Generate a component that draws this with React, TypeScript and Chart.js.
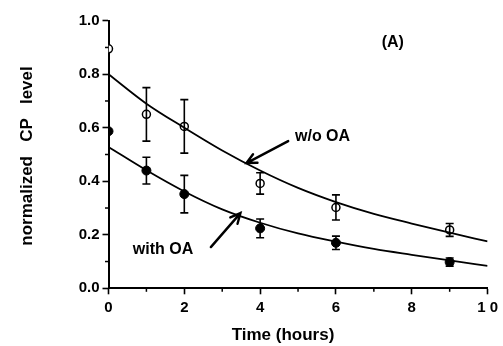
import React, { useEffect, useRef } from "react";
import { Chart, registerables } from "chart.js";

Chart.register(...registerables);

// ---- data ----
const times = [0, 1, 2, 4, 6, 9];
const withoutOA = [0.895, 0.65, 0.605, 0.392, 0.302, 0.218];
const withoutOAErr = [0, 0.1, 0.1, 0.04, 0.047, 0.024];
const withOA = [0.587, 0.44, 0.352, 0.224, 0.17, 0.098];
const withOAErr = [0, 0.05, 0.07, 0.035, 0.025, 0.015];

const fitTimes = [0, 1, 2, 3, 4, 5, 6, 7, 8, 9, 10];
const withoutOAFit = [0.8, 0.69, 0.6, 0.515, 0.44, 0.375, 0.322, 0.278, 0.242, 0.208, 0.175];
const withOAFit = [0.528, 0.441, 0.362, 0.295, 0.245, 0.205, 0.174, 0.147, 0.125, 0.104, 0.084];

const xTickValues = [0, 2, 4, 6, 8, 10];
const xTickLabels = ["0", "2", "4", "6", "8", "1 0"];
const yTickValues = [0, 0.2, 0.4, 0.6, 0.8, 1.0];
const yTickLabels = ["0.0", "0.2", "0.4", "0.6", "0.8", "1.0"];

const xTitle = "Time (hours)";
const yTitle = "normalized   CP   level";
const panelLabel = "(A)";
const labelWithout = "w/o OA";
const labelWith = "with OA";

const FONT = '"Liberation Sans", Arial, Helvetica, sans-serif';

const decorPlugin = {
  id: "decor",
  beforeDatasetDraw(chart: any) {
    const { ctx, chartArea } = chart;
    ctx.save();
    ctx.beginPath();
    ctx.rect(chartArea.left, chartArea.top - 10, chartArea.right - chartArea.left + 10, chartArea.bottom - chartArea.top + 20);
    ctx.clip();
  },
  afterDatasetDraw(chart: any) {
    chart.ctx.restore();
  },
  afterDatasetsDraw(chart: any) {
    const { ctx, chartArea } = chart;
    const xs = chart.scales.x;
    const ys = chart.scales.y;
    ctx.save();
    ctx.beginPath();
    ctx.rect(chartArea.left, chartArea.top - 10, chartArea.right - chartArea.left + 10, chartArea.bottom - chartArea.top + 10);
    ctx.clip();
    ctx.strokeStyle = "#000";
    ctx.lineWidth = 1.6;
    const drawErr = (vals: number[], errs: number[]) => {
      vals.forEach((v, i) => {
        const e = errs[i];
        if (!e) return;
        const px = xs.getPixelForValue(times[i]);
        const top = ys.getPixelForValue(v + e);
        const bot = ys.getPixelForValue(v - e);
        ctx.beginPath();
        ctx.moveTo(px, top);
        ctx.lineTo(px, bot);
        ctx.moveTo(px - 4, top);
        ctx.lineTo(px + 4, top);
        ctx.moveTo(px - 4, bot);
        ctx.lineTo(px + 4, bot);
        ctx.stroke();
      });
    };
    drawErr(withoutOA, withoutOAErr);
    drawErr(withOA, withOAErr);
    ctx.restore();
  },
  afterDraw(chart: any) {
    const { ctx, chartArea } = chart;
    const xs = chart.scales.x;
    const ys = chart.scales.y;
    ctx.save();
    ctx.strokeStyle = "#000";
    ctx.fillStyle = "#000";
    // minor ticks
    ctx.lineWidth = 1.5;
    for (let i = 0; i < xTickValues.length - 1; i++) {
      const m = (xTickValues[i] + xTickValues[i + 1]) / 2;
      const px = xs.getPixelForValue(m);
      ctx.beginPath();
      ctx.moveTo(px, chartArea.bottom);
      ctx.lineTo(px, chartArea.bottom + 3.5);
      ctx.stroke();
    }
    for (let i = 0; i < yTickValues.length - 1; i++) {
      const m = (yTickValues[i] + yTickValues[i + 1]) / 2;
      const py = ys.getPixelForValue(m);
      ctx.beginPath();
      ctx.moveTo(chartArea.left, py);
      ctx.lineTo(chartArea.left - 3.5, py);
      ctx.stroke();
    }
    // arrows
    const arrow = (x1: number, y1: number, x2: number, y2: number) => {
      const ax = xs.getPixelForValue(x1);
      const ay = ys.getPixelForValue(y1);
      const bx = xs.getPixelForValue(x2);
      const by = ys.getPixelForValue(y2);
      const ang = Math.atan2(by - ay, bx - ax);
      const h = 11;
      const spread = 0.45;
      ctx.lineWidth = 2.4;
      ctx.lineCap = "round";
      ctx.beginPath();
      ctx.moveTo(ax, ay);
      ctx.lineTo(bx, by);
      ctx.moveTo(bx - h * Math.cos(ang - spread), by - h * Math.sin(ang - spread));
      ctx.lineTo(bx, by);
      ctx.lineTo(bx - h * Math.cos(ang + spread), by - h * Math.sin(ang + spread));
      ctx.stroke();
    };
    arrow(4.74, 0.55, 3.64, 0.468);
    arrow(2.7, 0.154, 3.48, 0.281);
    // annotation texts
    ctx.font = `bold 16px ${FONT}`;
    ctx.textBaseline = "middle";
    ctx.textAlign = "left";
    ctx.fillText(labelWithout, xs.getPixelForValue(4.92), ys.getPixelForValue(0.566));
    ctx.fillText(labelWith, xs.getPixelForValue(0.64), ys.getPixelForValue(0.143));
    ctx.textAlign = "center";
    ctx.fillText(panelLabel, xs.getPixelForValue(7.5), ys.getPixelForValue(0.917));
    // axis titles
    ctx.font = `bold 17px ${FONT}`;
    ctx.fillText(xTitle, 283, chartArea.bottom + 47);
    ctx.translate(27, 156);
    ctx.rotate(-Math.PI / 2);
    ctx.font = `bold 17px ${FONT}`;
    ctx.fillText(yTitle, 0, 0);
    ctx.restore();
  },
};

export default function App() {
  const ref = useRef<HTMLCanvasElement | null>(null);
  useEffect(() => {
    document.body.style.margin = "0";
    const canvas = ref.current;
    if (!canvas) return;
    const chart = new Chart(canvas, {
      type: "line",
      data: {
        datasets: [
          {
            label: "w/o OA fit",
            data: fitTimes.map((t, i) => ({ x: t, y: withoutOAFit[i] })),
            borderColor: "#000",
            borderWidth: 1.8,
            pointRadius: 0,
            cubicInterpolationMode: "monotone",
            fill: false,
          },
          {
            label: "with OA fit",
            data: fitTimes.map((t, i) => ({ x: t, y: withOAFit[i] })),
            borderColor: "#000",
            borderWidth: 1.8,
            pointRadius: 0,
            cubicInterpolationMode: "monotone",
            fill: false,
          },
          {
            label: "w/o OA",
            data: times.map((t, i) => ({ x: t, y: withoutOA[i] })),
            showLine: false,
            pointRadius: 4,
            pointBackgroundColor: "#fff",
            pointBorderColor: "#000",
            pointBorderWidth: 1.5,
          },
          {
            label: "with OA",
            data: times.map((t, i) => ({ x: t, y: withOA[i] })),
            showLine: false,
            pointRadius: 4.5,
            pointBackgroundColor: "#000",
            pointBorderColor: "#000",
            pointBorderWidth: 1,
          },
        ] as any,
      },
      options: {
        animation: false,
        responsive: false,
        layout: { padding: { top: 20.7, right: 11.3, left: 0, bottom: 0 } },
        plugins: { legend: { display: false }, tooltip: { enabled: false } },
        scales: {
          x: {
            type: "linear",
            min: 0,
            max: 10,
            afterFit: (s: any) => {
              s.height = 57.7;
            },
            afterBuildTicks: (s: any) => {
              s.ticks = xTickValues.map((v) => ({ value: v }));
            },
            ticks: {
              color: "#000",
              font: { family: FONT, size: 15, weight: "bold" },
              padding: 5,
              maxRotation: 0,
              autoSkip: false,
              callback: (v: any) => {
                const i = xTickValues.indexOf(Number(v));
                return i >= 0 ? xTickLabels[i] : "";
              },
            },
            grid: { drawOnChartArea: false, tickLength: 6, tickWidth: 1.6, tickColor: "#000" },
            border: { color: "#000", width: 2 },
          },
          y: {
            type: "linear",
            min: 0,
            max: 1,
            afterFit: (s: any) => {
              s.width = 108.5;
            },
            afterBuildTicks: (s: any) => {
              s.ticks = yTickValues.map((v) => ({ value: v }));
            },
            ticks: {
              color: "#000",
              font: { family: FONT, size: 15, weight: "bold" },
              padding: 3,
              autoSkip: false,
              callback: (v: any) => {
                const i = yTickValues.findIndex((t) => Math.abs(t - Number(v)) < 1e-6);
                return i >= 0 ? yTickLabels[i] : "";
              },
            },
            grid: { drawOnChartArea: false, tickLength: 6, tickWidth: 1.6, tickColor: "#000" },
            border: { color: "#000", width: 2 },
          },
        },
      },
      plugins: [decorPlugin],
    });
    return () => chart.destroy();
  }, []);
  return (
    <div style={{ width: 503, height: 346, background: "#fff" }}>
      <canvas ref={ref} width={503} height={346} style={{ display: "block" }} />
    </div>
  );
}
